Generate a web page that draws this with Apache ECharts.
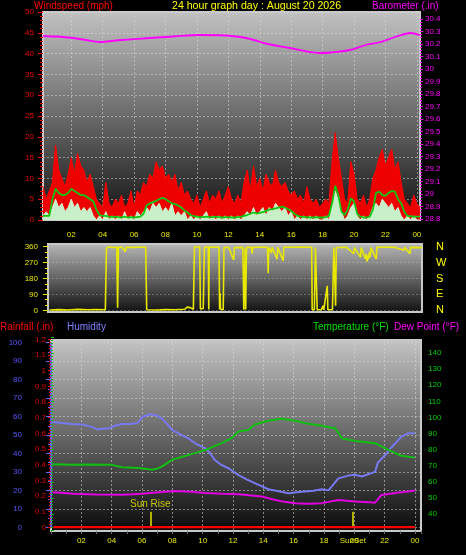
<!DOCTYPE html>
<html>
<head>
<meta charset="utf-8">
<script src="https://cdn.jsdelivr.net/npm/echarts@6/dist/echarts.min.js"></script>
<style>
html,body{margin:0;padding:0;background:#000;}
#chart{width:466px;height:555px;}
</style>
</head>
<body>
<div id="chart"></div>
<script>
// ---------- DATA ----------
const windStart = 0.2, windStep = 0.2; // sample times (hours) for the wind series
const windGust = [8,5,7,9,
 18,12,10,8,11, 15,11,16,13,12, 9,11,8,5,4, 3,9,4,3,5, 4,6,3,4,7, 3,7,6,9,8,
 11,10,14,12,13, 10,11,9,11,7, 9,6,7,5,4, 6,3,5,7,4, 6,5,7,4,6, 8,5,4,6,4,
 9,12,7,13,8, 10,7,11,9,8, 12,9,8,9,7, 6,7,5,6,4, 8,5,4,5,3, 4,5,4,14,21,
 15,10,5,4,14, 11,5,4,6,3, 5,10,12,15,17, 13,15,17,12,14, 9,5,4,3,6, 4,3];
const windSpeed = [1,2,1,3,
 5,3,4,2,3, 5,3,4,2,3, 2,3,1,0,1, 0,2,0,1,0, 1,0,2,0,1, 0,2,1,2,3,
 2,4,3,4,2, 3,2,4,1,2, 1,2,0,1,0, 1,0,1,2,0, 1,0,1,0,1, 0,1,0,1,0,
 1,2,1,3,1, 2,3,1,3,2, 4,3,2,3,1, 2,0,1,0,1, 0,1,0,1,0, 0,1,0,4,7,
 5,2,0,1,3, 4,1,0,1,0, 1,3,4,3,5, 4,3,4,2,3, 1,0,1,0,1, 0,0];
const windAvg = [1,1,1,5,
 7.5,6.5,6,6,6.5, 7.5,7,6.5,6,6, 5.5,5,4.5,2.5,1.2, 1,1,0.8,0.7,0.8, 0.7,0.6,0.8,0.6,0.7, 0.6,0.7,0.8,1.5,3.5,
 4,4.3,4.6,5,5.3, 5,4.5,4,3.8,3.5, 3,2.3,1.8,1.2,0.9, 0.8,0.7,0.7,0.8,0.7, 0.7,0.8,0.7,0.6,0.7, 0.7,0.6,0.6,0.7,0.8,
 1,1.2,1.5,1.8,1.6, 1.7,1.9,2.2,2.5,2.6, 2.8,3,3.2,3,2.6, 2.2,1.5,1,0.8,0.7, 0.7,0.6,0.6,0.7,0.6, 0.6,0.7,1,4,8.2,
 6,2,1.2,2.5,5.2, 4.5,1.5,0.8,0.6,0.6, 0.8,2.5,6.5,6.8,6, 5.8,6.5,7,6.8,5, 4,2,1,0.9,0.8, 0.8,0.8];
const baroTimes  = [0.2,1,2,3,3.8,5,7,8.5,10.2,11.5,12.5,13.4,14.5,15.9,17,17.8,18.5,19.75,20.7,21.7,22.7,23.6,24.2];
const baroValues = [30.264,30.26,30.25,30.23,30.216,30.23,30.248,30.26,30.272,30.27,30.26,30.24,30.2,30.168,30.14,30.128,30.132,30.152,30.19,30.216,30.26,30.288,30.27];
const dirTimes = [0.6,1.2,1.8,2.4,3.0,3.6,4.15,4.22,4.35,4.6,4.88,4.93,4.98,5.2,5.42,5.48,6.0,6.4,6.72,
 6.78,7.4,8.0,8.6,9.2,9.35,9.42,9.55,9.62,9.75,9.82,10.15,10.2,10.38,10.45,10.7,10.73,10.76,11.38,
 11.42,11.45,11.48,11.65,11.7,12.0,12.2,12.32,12.36,12.9,12.96,13.05,13.08,13.13,13.45,13.49,13.53,14.0,
 14.47,14.51,14.55,14.72,14.76,15.08,15.12,15.47,15.51,16.5,17.28,17.31,17.45,17.52,17.6,17.63,17.9,18.0,
 18.05,18.27,18.31,18.6,18.69,18.77,18.8,18.85,19.2,19.5,19.96,20.0,20.39,20.43,20.7,20.75,20.8,20.85,
 20.9,20.95,21.0,21.05,21.39,21.43,22.0,22.6,23.15,23.2,23.53,23.57,24.3];
const dirValues = [2,4,2,5,3,4,3,352,358,356,357,15,356,358,332,357,356,358,357,
 3,2,4,3,6,18,8,15,5,6,358,358,8,10,356,358,5,358,357,
 4,98,6,3,355,357,310,285,355,356,3,350,4,357,356,320,356,358,
 357,210,356,325,357,290,356,280,357,358,357,3,4,355,356,4,3,26,
 3,139,3,4,356,354,26,354,357,356,320,356,300,355,290,320,275,310,
 290,330,300,355,290,356,358,356,340,357,320,356,355];
const humTimes = [0.1,0.7,1.4,2.2,2.8,3.1,3.5,3.8,4.2,4.7,5.2,5.7,5.9,6.1,6.6,7.0,7.3,7.6,8.0,8.6,9.1,9.5,10.2,10.5,10.8,11.2,11.7,12.37,12.9,13.47,14.34,15.0,15.66,16.2,16.76,17.3,17.86,18.3,18.6,18.95,19.6,20.05,20.5,21.0,21.37,21.55,22.03,22.5,23.1,23.56,24.0];
const humValues = [57,56.5,56,55.5,54,53,53.5,53.5,55,56,56,56.5,58.5,60,61.2,60.5,59,56.5,52.7,50,48,45.5,42.8,40,36.5,34,32,28.3,26,23.8,20.6,19.5,18.4,19,19.4,19.8,20.6,20,23,26.5,28,28.5,27.5,29,30,35,39,43.8,49,51,51];
const tempTimes = [0.1,1.4,2.5,3.5,4.0,4.7,5.8,6.66,7.0,7.3,7.98,9.08,10.2,11.25,11.9,12.37,13.0,13.47,14.34,15.22,16.1,16.98,17.86,18.5,18.74,19.18,20.06,21.37,22.25,23.1,24.0];
const tempValues = [70.9,70.5,70.8,70.5,70.5,69,68.5,67.4,68.2,69.4,73.6,76.7,79.8,84,87.1,91.2,92.2,95.8,97.9,99.1,97.9,96,94.8,93.6,93.3,87.1,85.4,84,79.8,76.1,75];
const dewTimes = [0.1,1.5,3.0,4.7,6.0,6.9,8.2,9.2,10.2,11.3,12.37,13.9,14.8,15.4,16.1,17.0,17.86,18.95,19.5,20.06,21.0,21.37,21.8,22.7,23.4,24.0];
const dewValues = [53.5,52.5,52,51.9,52.5,53.3,54.3,53.8,53,52.6,52.3,50.8,48.7,47.5,46.7,46.3,46.7,48.7,48.2,47.7,47.2,47,51.8,53,53.8,54.5];
const rainTimes = [0.15,6,12,18,24.0];
const rainValues = [0,0,0,0,0];
const sunRise = 6.55, sunSet = 19.9;
const dirNames = {0:'N',90:'E',180:'S',270:'W',360:'N'};

// ---------- HELPERS ----------
const FONT = '"Liberation Sans", Arial, sans-serif';
const pairs = (xs, ys) => xs.map((x, i) => [x, ys[i]]);
const windTimes = windGust.map((_, i) => +(windStart + i * windStep).toFixed(1));
const vgrad = (a, b) => ({type:'linear',x:0,y:0,x2:0,y2:1,colorStops:[{offset:0,color:a},{offset:1,color:b}]});
const hourFmt = v => { const h = Math.round(v) % 24; return (h < 10 ? '0' : '') + h; };
const gridLine = {show:true, lineStyle:{color:'rgba(215,215,215,0.55)', type:[2,2], width:1}};
const hidden = {show:false};
const plainAxis = (g, min, max) => ({gridIndex:g, type:'value', min, max, show:false});

const option = {
  backgroundColor:'#000',
  animation:false,
  textStyle:{fontFamily:FONT},
  title:[
    {text:'Windspeed (mph)', left:34, top:1, padding:0, textStyle:{color:'#ff0000', fontSize:10, fontWeight:'normal', fontFamily:FONT}},
    {text:'24 hour graph day : August 20 2026', left:172, top:1, padding:0, textStyle:{color:'#ffff00', fontSize:10.6, fontWeight:'normal', fontFamily:FONT}},
    {text:'Barometer (.in)', left:372, top:1, padding:0, textStyle:{color:'#ff00ff', fontSize:10, fontWeight:'normal', fontFamily:FONT}},
    {text:'Rainfall (.in)', left:0, top:322, padding:0, textStyle:{color:'#ff0000', fontSize:10, fontWeight:'normal', fontFamily:FONT}},
    {text:'Humidity', left:67, top:322, padding:0, textStyle:{color:'#8080ff', fontSize:10, fontWeight:'normal', fontFamily:FONT}},
    {text:'Temperature (°F)', left:313, top:322, padding:0, textStyle:{color:'#00e000', fontSize:10, fontWeight:'normal', fontFamily:FONT}},
    {text:'Dew Point (°F)', left:394, top:322, padding:0, textStyle:{color:'#ff00ff', fontSize:10, fontWeight:'normal', fontFamily:FONT}}
  ],
  grid:[
    {left:43, top:12, width:377, height:208, show:true, backgroundColor:vgrad('#c2c2c2','#121212'), borderColor:'#c8c8c8', borderWidth:2, outerBoundsMode:'none'},
    {left:43, top:19, width:377, height:200, show:false, outerBoundsMode:'none'},
    {left:48, top:244, width:374, height:68, show:true, backgroundColor:vgrad('#b8b8b8','#101010'), borderColor:'#c8c8c8', borderWidth:2, outerBoundsMode:'none'},
    {left:48, top:246.7, width:374, height:63.6, show:false, outerBoundsMode:'none'},
    {left:51, top:340, width:370, height:191, show:true, backgroundColor:vgrad('#c4c4c4','#0a0a0a'), borderColor:'#c8c8c8', borderWidth:2, outerBoundsMode:'none'},
    {left:51, top:342.7, width:370, height:184.6, show:false, outerBoundsMode:'none'},
    {left:51, top:339.3, width:370, height:188, show:false, outerBoundsMode:'none'},
    {left:51, top:337, width:370, height:193, show:false, outerBoundsMode:'none'}
  ],
  xAxis:[
    {gridIndex:0, type:'value', min:0.2, max:24.2, splitNumber:12,
     axisLine:hidden, axisTick:hidden, splitLine:gridLine,
     axisLabel:{color:'#e8e800', fontSize:8, margin:11, showMinLabel:false, showMaxLabel:false, formatter:hourFmt, fontFamily:FONT}},
    plainAxis(1, 0.2, 24.2),
    plainAxis(2, 0.5, 24.3),
    plainAxis(3, 0.5, 24.3),
    {gridIndex:4, type:'value', min:0, max:24.4, interval:2,
     axisLine:hidden, splitLine:gridLine,
     axisTick:{show:true, length:3, lineStyle:{color:'#707070'}},
     minorTick:{show:true, splitNumber:2, length:3, lineStyle:{color:'#707070'}},
     axisLabel:{color:'#e8e800', fontSize:8, margin:6, showMinLabel:false, showMaxLabel:false, formatter:hourFmt, fontFamily:FONT}},
    plainAxis(5, 0, 24.4),
    plainAxis(6, 0, 24.4),
    plainAxis(7, 0, 24.4)
  ],
  yAxis:[
    {gridIndex:0, type:'value', min:0, max:50, interval:5, position:'left',
     axisLine:hidden, splitLine:gridLine,
     axisTick:{show:true, length:5, lineStyle:{color:'#ff0000'}},
     minorTick:{show:true, splitNumber:5, length:3, lineStyle:{color:'#ff0000'}},
     axisLabel:{color:'#ee0000', fontSize:8, margin:9, fontFamily:FONT}},
    {gridIndex:1, type:'value', min:28.8, max:30.4, interval:0.1, position:'right',
     axisLine:hidden, splitLine:hidden,
     axisTick:{show:true, length:3, lineStyle:{color:'#ff00ff'}},
     minorTick:{show:true, splitNumber:4, length:2, lineStyle:{color:'#ff00ff'}},
     axisLabel:{color:'#ff00ff', fontSize:8, margin:5, fontFamily:FONT}},
    plainAxis(2, 0, 1),
    {gridIndex:3, type:'value', min:0, max:360, interval:90, position:'left',
     axisLine:hidden, splitLine:{show:true, lineStyle:{color:'rgba(200,200,200,0.35)', type:[2,2]}},
     axisTick:{show:true, length:5, lineStyle:{color:'#e8e800'}},
     minorTick:{show:true, splitNumber:3, length:3, lineStyle:{color:'#e8e800'}},
     axisLabel:{color:'#e8e800', fontSize:8, margin:10, fontFamily:FONT}},
    {gridIndex:3, type:'value', min:0, max:360, interval:90, position:'right',
     axisLine:hidden, axisTick:hidden, splitLine:hidden,
     axisLabel:{color:'#ffff00', fontSize:11, margin:14, formatter:v => dirNames[v], fontFamily:FONT}},
    plainAxis(4, 0, 1),
    {gridIndex:5, type:'value', min:0, max:100, interval:10, position:'left', offset:21,
     axisLine:{show:true, lineStyle:{color:'#6868ff', width:2}},
     splitLine:gridLine,
     axisTick:{show:true, length:5, lineStyle:{color:'#6868ff'}},
     minorTick:{show:true, splitNumber:2, length:3, lineStyle:{color:'#6868ff'}},
     axisLabel:{color:'#5858ff', fontSize:8, margin:8, fontFamily:FONT}},
    {gridIndex:6, type:'value', min:0, max:1.2, interval:0.1, position:'left',
     axisLine:hidden, splitLine:hidden,
     axisTick:{show:true, length:3, lineStyle:{color:'#ff0000'}},
     minorTick:{show:true, splitNumber:5, length:2, lineStyle:{color:'#ff0000'}},
     axisLabel:{color:'#e00000', fontSize:8, margin:5, fontFamily:FONT}},
    {gridIndex:7, type:'value', min:30, max:150, interval:10, position:'right',
     axisLine:hidden, splitLine:hidden,
     axisTick:{show:true, length:3, lineStyle:{color:'#00c000'}},
     minorTick:{show:true, splitNumber:5, length:2, lineStyle:{color:'#00c000'}},
     axisLabel:{color:'#00d000', fontSize:8, margin:7, showMinLabel:false, showMaxLabel:false, fontFamily:FONT}}
  ],
  series:[
    {type:'line', xAxisIndex:0, yAxisIndex:0, data:pairs(windTimes, windGust), symbol:'none',
     lineStyle:{color:'#ff0000', width:1}, areaStyle:{color:'#ee0000', opacity:1}, z:2},
    {type:'line', xAxisIndex:0, yAxisIndex:0, data:pairs(windTimes, windSpeed), symbol:'none',
     lineStyle:{color:'#d0f4d0', width:1}, areaStyle:{color:'#c8f0c8', opacity:1}, z:3},
    {type:'line', xAxisIndex:0, yAxisIndex:0, data:pairs(windTimes, windAvg), symbol:'none',
     lineStyle:{color:'#10c810', width:1.8}, z:4},
    {type:'line', xAxisIndex:1, yAxisIndex:1, data:pairs(baroTimes, baroValues), symbol:'none', smooth:0.3,
     lineStyle:{color:'#ff00ff', width:1.8}, z:4},
    {type:'line', xAxisIndex:3, yAxisIndex:3, data:pairs(dirTimes, dirValues), symbol:'none',
     lineStyle:{color:'#e8e800', width:1.6}, z:4},
    {type:'line', xAxisIndex:5, yAxisIndex:6, data:pairs(humTimes, humValues), symbol:'none',
     lineStyle:{color:'#7878f0', width:2}, z:4},
    {type:'line', xAxisIndex:7, yAxisIndex:8, data:pairs(tempTimes, tempValues), symbol:'none',
     lineStyle:{color:'#10c010', width:2}, z:4},
    {type:'line', xAxisIndex:7, yAxisIndex:8, data:pairs(dewTimes, dewValues), symbol:'none',
     lineStyle:{color:'#e000e0', width:2}, z:4},
    {type:'line', xAxisIndex:6, yAxisIndex:7, data:pairs(rainTimes, rainValues), symbol:'none',
     lineStyle:{color:'#ff0000', width:2.5}, z:5,
     markLine:{silent:true, symbol:['none','none'], animation:false,
       lineStyle:{color:'#b0b000', width:2, type:'solid'},
       data:[
         [{coord:[sunRise, 0], label:{show:true, position:'end', formatter:'Sun Rise', color:'#c8c800', fontSize:10, distance:2, fontFamily:FONT}},
          {coord:[sunRise, 0.1]}],
         [{coord:[sunSet, 0], label:{show:true, position:'start', formatter:'SunSet', color:'#e0e000', fontSize:8, distance:9, fontFamily:FONT}},
          {coord:[sunSet, 0.1]}]
       ]}}
  ]
};
const chart = echarts.init(document.getElementById('chart'), null, {renderer:'canvas'});
chart.setOption(option);
</script>
</body>
</html>
